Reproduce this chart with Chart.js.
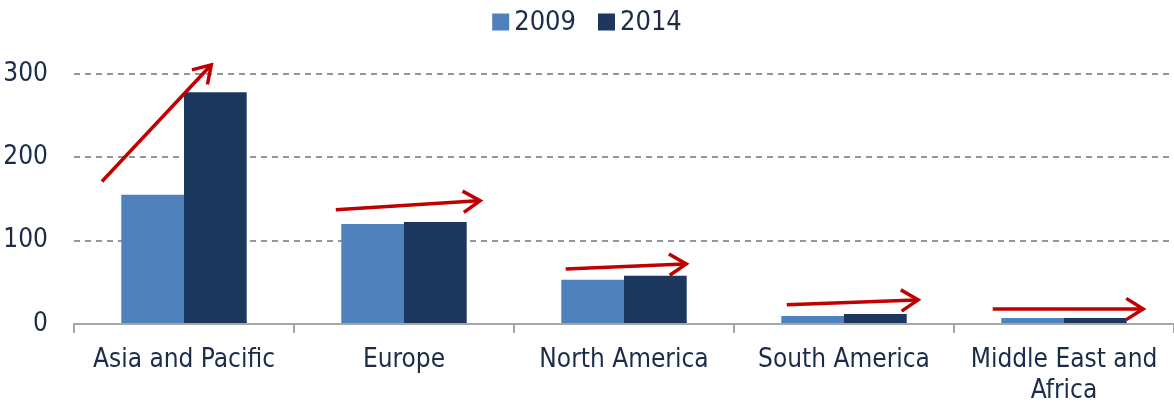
<!DOCTYPE html>
<html><head><meta charset="utf-8">
<script src="https://cdn.jsdelivr.net/npm/chart.js@4.4.1/dist/chart.umd.min.js"></script>
<style>html,body{margin:0;padding:0;background:#fff;}canvas{display:block;}</style>
</head><body>
<canvas id="c" width="1174" height="403"></canvas>
<script>
const categories = ["Asia and Pacific", "Europe", "North America", "South America", ["Middle East and", "Africa"]];
const seriesNames = ["2009", "2014"];
const values2009 = [155, 120, 53, 9.6, 7.2];
const values2014 = [278, 122.5, 58, 12, 7.2];
const yTicks = [0, 100, 200, 300];
// trend arrows: [category index, tail offset, tail value, head offset, head value]
const arrows = [
  [0, -0.373, 171, 0.124, 311],
  [1, -0.31, 137, 0.346, 148],
  [2, -0.265, 66, 0.283, 72],
  [3, -0.26, 23, 0.337, 29],
  [4, -0.324, 18, 0.36, 18]
];

const FONT = "'Liberation Sans Narrow','DejaVu Sans Condensed','Liberation Sans',sans-serif";
const TXT = '#1b2b48';
const colors = ['#4F81BD', '#1B375D'];

const legendPlugin = {
  id: 'customLegend',
  afterDraw(chart) {
    const ctx = chart.ctx;
    ctx.save();
    ctx.font = '27px ' + FONT;
    ctx.textBaseline = 'middle';
    const box = 17, gap = 5, itemGap = 22;
    const widths = seriesNames.map(s => box + gap + ctx.measureText(s).width);
    const total = widths.reduce((a, b) => a + b, 0) + itemGap * (seriesNames.length - 1);
    let x = (chart.width - total) / 2;
    const yc = 22;
    seriesNames.forEach((s, i) => {
      ctx.fillStyle = colors[i];
      ctx.fillRect(x, yc - box / 2, box, box);
      ctx.fillStyle = TXT;
      ctx.fillText(s, x + box + gap, yc + 1);
      x += widths[i] + itemGap;
    });
    ctx.restore();
  }
};

const arrowPlugin = {
  id: 'arrows',
  afterDatasetsDraw(chart) {
    const ctx = chart.ctx, xs = chart.scales.x, ys = chart.scales.y;
    const cw = xs.getPixelForValue(1) - xs.getPixelForValue(0);
    ctx.save();
    ctx.strokeStyle = '#C00000';
    ctx.lineWidth = 3.5;
    ctx.lineCap = 'butt';
    ctx.lineJoin = 'miter';
    arrows.forEach(a => {
      const cx = xs.getPixelForValue(a[0]);
      const x1 = cx + a[1] * cw, y1 = ys.getPixelForValue(a[2]);
      const x2 = cx + a[3] * cw, y2 = ys.getPixelForValue(a[4]);
      const ang = Math.atan2(y2 - y1, x2 - x1);
      ctx.beginPath();
      ctx.moveTo(x1, y1);
      ctx.lineTo(x2 - 2 * Math.cos(ang), y2 - 2 * Math.sin(ang));
      ctx.stroke();
      const L = 20, w = 0.56;
      ctx.beginPath();
      ctx.moveTo(x2 - L * Math.cos(ang - w), y2 - L * Math.sin(ang - w));
      ctx.lineTo(x2, y2);
      ctx.lineTo(x2 - L * Math.cos(ang + w), y2 - L * Math.sin(ang + w));
      ctx.stroke();
    });
    ctx.restore();
  }
};

new Chart(document.getElementById('c'), {
  type: 'bar',
  data: {
    labels: categories,
    datasets: [
      { label: seriesNames[0], data: values2009, backgroundColor: colors[0] },
      { label: seriesNames[1], data: values2014, backgroundColor: colors[1] }
    ]
  },
  options: {
    responsive: false,
    animation: false,
    devicePixelRatio: 1,
    layout: { padding: { top: 49, right: 0, left: 0, bottom: 0 } },
    datasets: { bar: { categoryPercentage: 0.57, barPercentage: 1.0 } },
    plugins: { legend: { display: false }, tooltip: { enabled: false } },
    scales: {
      x: {
        grid: { offset: true, drawOnChartArea: false, drawTicks: true, tickLength: 9, color: '#a6a6a6', lineWidth: 2 },
        border: { display: true, color: '#a6a6a6', width: 2 },
        ticks: { color: TXT, font: { family: FONT, size: 26, lineHeight: 1.22 }, padding: 11, maxRotation: 0, autoSkip: false },
        afterFit(s) { s.height = 79; }
      },
      y: {
        min: 0, max: 330,
        afterBuildTicks(s) { s.ticks = yTicks.map(v => ({ value: v })); },
        grid: { drawTicks: false, color: c => c.tick && c.tick.value === 0 ? 'rgba(0,0,0,0)' : '#969696', lineWidth: 2 },
        border: { display: false, dash: [6, 5] },
        ticks: { color: TXT, font: { family: FONT, size: 26 }, padding: 26 },
        afterFit(s) { s.width = 74; }
      }
    }
  },
  plugins: [legendPlugin, arrowPlugin]
});
</script>
</body></html>
